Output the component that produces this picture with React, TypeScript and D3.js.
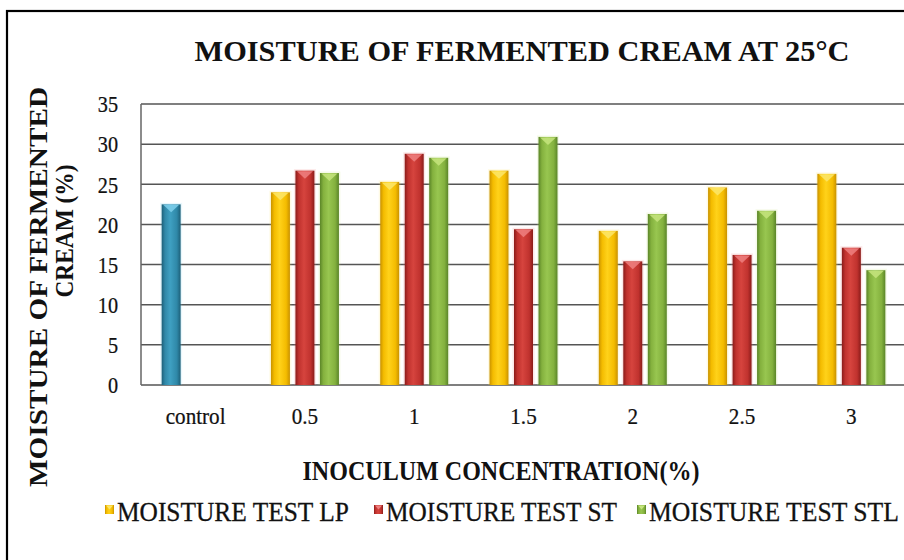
import React, { useLayoutEffect, useRef, useState } from "react";
import * as d3 from "d3";

const categories = ["control", "0.5", "1", "1.5", "2", "2.5", "3"];
const seriesNames = ["MOISTURE TEST LP", "MOISTURE TEST ST", "MOISTURE TEST STL"];
const controlValues: (number | null)[] = [22.5, null, null, null, null, null, null];
const lpValues: (number | null)[] = [null, 24.0, 25.3, 26.7, 19.2, 24.6, 26.3];
const stValues: (number | null)[] = [null, 26.7, 28.8, 19.4, 15.4, 16.2, 17.1];
const stlValues: (number | null)[] = [null, 26.4, 28.3, 30.9, 21.3, 21.7, 14.3];
const yTicks = [0, 5, 10, 15, 20, 25, 30, 35];

const palettes: Record<string, { edge: string; main: string; light: string; tri: string }> = {
  control: { edge: "#1d5f78", main: "#2f88a8", light: "#3fa0c2", tri: "#7fd0ec" },
  lp: { edge: "#c99200", main: "#f4bc00", light: "#ffd21a", tri: "#fbe66a" },
  st: { edge: "#8a1c1a", main: "#c0322e", light: "#d6443e", tri: "#ee8080" },
  stl: { edge: "#5a8528", main: "#84b13e", light: "#98c650", tri: "#c6e47e" },
};

const FONT = "'Liberation Serif', 'Times New Roman', serif";

function FitText(props: {
  x: number;
  y: number;
  width: number;
  fontSize: number;
  children: string;
  bold?: boolean;
  strokeW?: number;
}) {
  const ref = useRef<SVGTextElement>(null);
  const [sx, setSx] = useState(1);
  useLayoutEffect(() => {
    if (ref.current) {
      const natural = ref.current.getComputedTextLength();
      if (natural > 0) setSx(props.width / natural);
    }
  }, [props.width, props.children, props.fontSize]);
  return (
    <text
      ref={ref}
      transform={`translate(${props.x},${props.y}) scale(${sx},1)`}
      fontFamily={FONT}
      fontSize={props.fontSize}
      fontWeight={props.bold ? "bold" : "normal"}
      fill="#111"
      stroke="#111"
      strokeWidth={props.strokeW ?? 0}
    >
      {props.children}
    </text>
  );
}

export default function App() {
  const W = 904;
  const H = 560;
  const plotLeft = 141;
  const plotRight = 906;
  const plotTop = 104;
  const plotBottom = 385;

  const x = d3.scaleBand<string>().domain(categories).range([plotLeft, plotRight]).padding(0);
  const groupWidth = 73.5;
  const p = 5.5 / 24.5;
  const xSub = d3
    .scaleBand<string>()
    .domain(["lp", "st", "stl"])
    .range([0, groupWidth])
    .paddingInner(p)
    .paddingOuter(p / 2);
  const y = d3.scaleLinear().domain([0, 35]).range([plotBottom, plotTop]);

  const seriesList: { key: string; slot: string; values: (number | null)[] }[] = [
    { key: "control", slot: "lp", values: controlValues },
    { key: "lp", slot: "lp", values: lpValues },
    { key: "st", slot: "st", values: stValues },
    { key: "stl", slot: "stl", values: stlValues },
  ];

  const bars: JSX.Element[] = [];
  seriesList.forEach((s) => {
    s.values.forEach((v, i) => {
      if (v == null) return;
      const cat = categories[i];
      const center = (x(cat) as number) + x.bandwidth() / 2;
      const bx = center - groupWidth / 2 + (xSub(s.slot) as number);
      const bw = xSub.bandwidth();
      const top = y(v);
      const h = y(0) - top;
      const pal = palettes[s.key];
      bars.push(
        <g key={s.key + i}>
          <rect x={bx - 1.5} y={top - 1.5} width={bw + 3} height={h + 1.5} fill={pal.tri} opacity={0.18} />
          <rect x={bx} y={top} width={bw} height={h} fill={`url(#grad-${s.key})`} />
          <polygon
            points={`${bx + 1.5},${top + 0.5} ${bx + bw - 1.5},${top + 0.5} ${bx + bw / 2},${top + 8}`}
            fill={pal.tri}
            opacity={0.85}
          />
        </g>
      );
    });
  });

  const legendItems = [
    { key: "lp", label: seriesNames[0], mx: 105, tx: 117, tw: 232 },
    { key: "st", label: seriesNames[1], mx: 374, tx: 386, tw: 231 },
    { key: "stl", label: seriesNames[2], mx: 637, tx: 649, tw: 250 },
  ];

  return (
    <svg
      width={W}
      height={H}
      style={{ position: "absolute", left: 0, top: 0, background: "#fff" }}
      xmlns="http://www.w3.org/2000/svg"
    >
      <defs>
        {Object.entries(palettes).map(([k, pal]) => (
          <linearGradient id={`grad-${k}`} key={k} x1="0" x2="1" y1="0" y2="0">
            <stop offset="0" stopColor={pal.edge} />
            <stop offset="0.18" stopColor={pal.main} />
            <stop offset="0.45" stopColor={pal.light} />
            <stop offset="0.8" stopColor={pal.main} />
            <stop offset="1" stopColor={pal.edge} />
          </linearGradient>
        ))}
      </defs>
      <rect x={0} y={0} width={W} height={H} fill="#fff" />
      <rect x={7} y={11} width={W + 20} height={H + 20} fill="none" stroke="#000" strokeWidth={2.2} />

      {/* title */}
      <text
        x={522}
        y={61}
        textAnchor="middle"
        fontFamily={FONT}
        fontWeight="bold"
        fontSize={30}
        textLength={655}
        lengthAdjust="spacingAndGlyphs"
        fill="#111"
      >
        MOISTURE OF FERMENTED CREAM AT 25°C
      </text>

      {/* gridlines */}
      {yTicks.map((t) => (
        <line
          key={"g" + t}
          x1={plotLeft}
          x2={plotRight}
          y1={y(t)}
          y2={y(t)}
          stroke="#555"
          strokeWidth={1.5}
        />
      ))}
      <line x1={plotLeft} x2={plotLeft} y1={plotTop} y2={plotBottom} stroke="#666" strokeWidth={1.5} />

      {/* y tick labels */}
      {yTicks.map((t) => (
        <text
          key={"yt" + t}
          transform={`translate(118,${y(t)}) scale(0.88,1)`}
          dy="0.36em"
          textAnchor="end"
          fontFamily={FONT}
          fontSize={23}
          fill="#111"
          stroke="#111"
          strokeWidth={0.25}
        >
          {t}
        </text>
      ))}

      {bars}

      {/* x tick labels */}
      {categories.map((c) => (
        <text
          key={"xt" + c}
          transform={`translate(${(x(c) as number) + x.bandwidth() / 2},424) scale(0.88,1)`}
          textAnchor="middle"
          fontFamily={FONT}
          fontSize={24}
          fill="#111"
          stroke="#111"
          strokeWidth={0.25}
        >
          {c}
        </text>
      ))}

      {/* x axis title */}
      <text
        x={501}
        y={480}
        textAnchor="middle"
        fontFamily={FONT}
        fontWeight="bold"
        fontSize={28}
        textLength={397}
        lengthAdjust="spacingAndGlyphs"
        fill="#111"
      >
        INOCULUM CONCENTRATION(%)
      </text>

      {/* y axis title */}
      <text
        transform={`translate(47,287) rotate(-90)`}
        textAnchor="middle"
        fontFamily={FONT}
        fontWeight="bold"
        fontSize={25}
        textLength={400}
        lengthAdjust="spacingAndGlyphs"
        fill="#111"
      >
        MOISTURE OF FERMENTED
      </text>
      <text
        transform={`translate(73,231) rotate(-90)`}
        textAnchor="middle"
        fontFamily={FONT}
        fontWeight="bold"
        fontSize={25}
        textLength={133}
        lengthAdjust="spacingAndGlyphs"
        fill="#111"
      >
        CREAM (%)
      </text>

      {/* legend */}
      {legendItems.map((it) => (
        <g key={"lg" + it.key}>
          <rect x={it.mx} y={505} width={9} height={9} fill={`url(#grad-${it.key})`} />
          <polygon
            points={`${it.mx + 1},${505.5} ${it.mx + 8},${505.5} ${it.mx + 4.5},${509.5}`}
            fill={palettes[it.key].tri}
          />
          <FitText x={it.tx} y={521} width={it.tw} fontSize={28} strokeW={0.3}>
            {it.label}
          </FitText>
        </g>
      ))}
    </svg>
  );
}
